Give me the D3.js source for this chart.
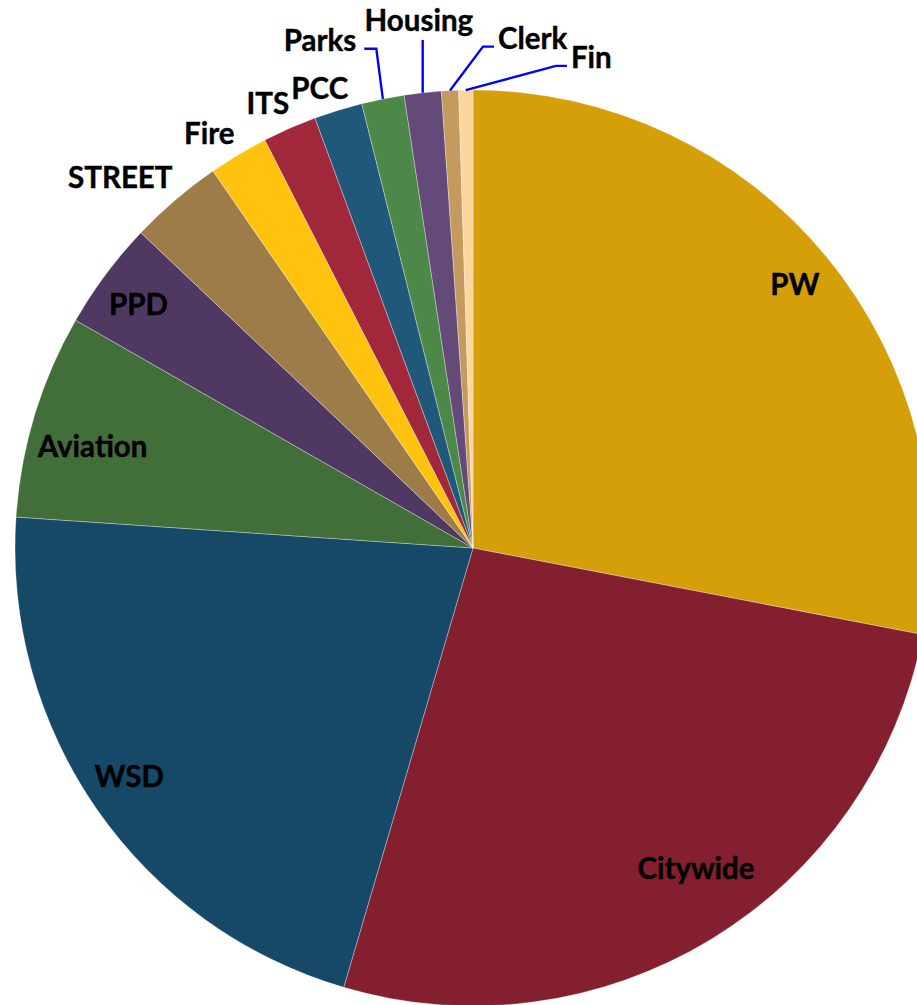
<!DOCTYPE html>
<html>
<head>
<meta charset="utf-8">
<script src="https://cdn.jsdelivr.net/npm/d3@7/dist/d3.min.js"></script>
<style>
html, body { margin: 0; padding: 0; background: #fff; }
svg { display: block; }
</style>
</head>
<body>
<svg id="chart" width="917" height="1005"></svg>
<script>
// ---- Data (share of total, %), clockwise from 12 o'clock ----
const categories = ["PW", "Citywide", "WSD", "Aviation", "PPD", "STREET", "Fire", "ITS", "PCC", "Parks", "Housing", "Clerk", "Fin"];
const values = [28.0, 26.5, 21.5, 7.2, 3.8, 3.3, 2.1, 1.9, 1.7, 1.5, 1.3, 0.6, 0.5];
const colors = ["#D49F09", "#841F2F", "#164867", "#426E39", "#4F3963", "#9D7C4A", "#FFC20E", "#A0283A", "#1F5878", "#4E8848", "#634A79", "#C49A5E", "#FDD69E"];

// ---- Layout ----
const W = 917, H = 1005;
const cx = 473, cy = 548, R = 458;
// label placement: [angle offset from slice middle (deg), radius factor, leader type]
const labelLayout = {
  "PW":       [0.1, 0.91, null],
  "Citywide": [-3.6, 0.85, null],
  "WSD":      [1.4, 0.90, null],
  "Aviation": [-1.8, 0.86, null],
  "PPD":      [-0.5, 0.905, null],
  "STREET":   [-3.0, 1.118, null],
  "Fire":     [-1.6, 1.074, null],
  "ITS":      [-1.15, 1.07, null],
  "PCC":      [-1.3, 1.059, null],
  "Parks":    [-5.4, 1.159, "left"],
  "Housing":  [0.45, 1.159, "up"],
  "Clerk":    [9.55, 1.122, "right"],
  "Fin":      [14.45, 1.103, "right"]
};

const svg = d3.select("#chart");
const g = svg.append("g").attr("transform", `translate(${cx},${cy})`);

const data = categories.map((c, i) => ({ name: c, value: values[i], color: colors[i] }));
const pie = d3.pie().value(d => d.value).sort(null);
const arcs = pie(data);
const arc = d3.arc().innerRadius(0).outerRadius(R);

g.selectAll("path.slice")
  .data(arcs)
  .join("path")
  .attr("class", "slice")
  .attr("d", arc)
  .attr("fill", d => d.data.color)
  .attr("stroke", "#ffffff")
  .attr("stroke-opacity", 0.45)
  .attr("stroke-width", 0.7);

function polar(angleRad, r) {
  return [Math.sin(angleRad) * r, -Math.cos(angleRad) * r];
}

const labels = g.selectAll("text.lbl")
  .data(arcs)
  .join("text")
  .attr("class", "lbl")
  .attr("font-family", "Lato, 'Open Sans', sans-serif")
  .attr("font-weight", "bold")
  .attr("font-size", 29.5)
  .attr("fill", "#000")
  .attr("stroke", "#000")
  .attr("stroke-width", 0.4)
  .attr("text-anchor", "middle")
  .attr("dominant-baseline", "central")
  .each(function (d) {
    const mid = (d.startAngle + d.endAngle) / 2;
    const L = labelLayout[d.data.name];
    const p = polar(mid + L[0] * Math.PI / 180, L[1] * R);
    d.lx = p[0]; d.ly = p[1]; d.mid = mid;
  })
  .attr("x", d => d.lx)
  .attr("y", d => d.ly)
  .text(d => d.data.name);

// leader lines
labels.each(function (d) {
  const L = labelLayout[d.data.name];
  if (!L[2]) return;
  const bb = this.getBBox();
  const s = polar(d.mid, R);
  let pts;
  if (L[2] === "left") {
    const ey = d.ly + 9;
    const ex = bb.x + bb.width + 8;
    pts = [s, [ex + 12, ey], [ex, ey]];
  } else if (L[2] === "right") {
    const ey = d.ly + 9;
    const ex = bb.x - 4;
    pts = [s, [ex - 11, ey], [ex, ey]];
  } else {
    pts = [s, [s[0], d.ly + 20]];
  }
  g.append("path")
    .attr("d", d3.line()(pts))
    .attr("fill", "none")
    .attr("stroke", "#0000FF")
    .attr("stroke-width", 2.4);
});
</script>
</body>
</html>
